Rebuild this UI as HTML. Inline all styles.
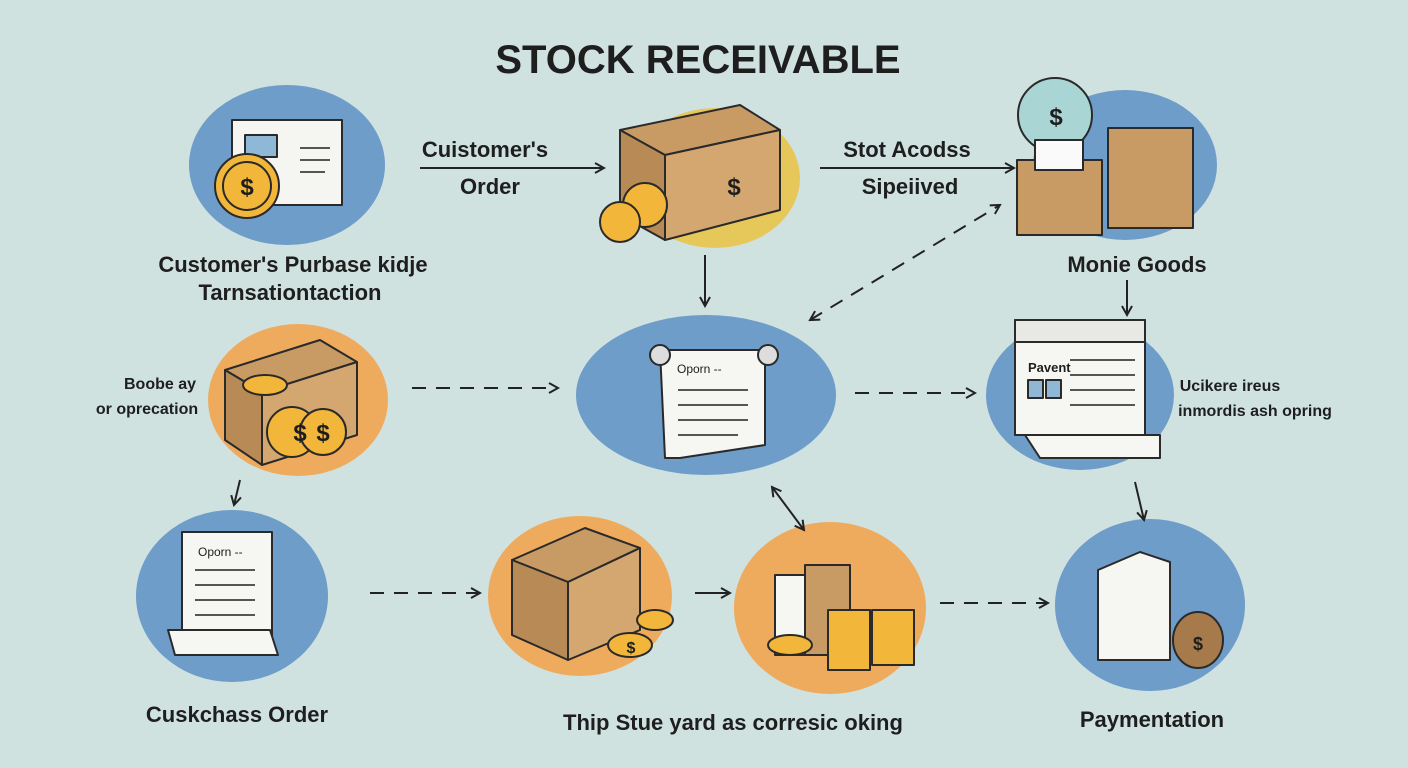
<!DOCTYPE html>
<html><head><meta charset="utf-8"><style>
html,body{margin:0;padding:0;background:#d0e2e0;}
svg{display:block}
text{font-family:"Liberation Sans",sans-serif;fill:#1e1e1e}
</style></head><body>
<svg width="1408" height="768" viewBox="0 0 1408 768" xmlns="http://www.w3.org/2000/svg">
<defs>
<marker id="ah" markerWidth="12" markerHeight="12" refX="10" refY="6" orient="auto-start-reverse" markerUnits="userSpaceOnUse">
<path d="M1,1 L10,6 L1,11" fill="none" stroke="#222" stroke-width="2"/></marker>
</defs>
<rect width="1408" height="768" fill="#d0e2e0"/>
<text x="698" y="73" text-anchor="middle" font-size="40" font-weight="bold">STOCK RECEIVABLE</text>

<!-- blobs -->
<ellipse cx="287" cy="165" rx="98" ry="80" fill="#6d9dc8"/>
<ellipse cx="715" cy="178" rx="85" ry="70" fill="#e6c85a"/>
<ellipse cx="1125" cy="165" rx="92" ry="75" fill="#6d9dc8"/>
<ellipse cx="298" cy="400" rx="90" ry="76" fill="#eeab5e"/>
<ellipse cx="706" cy="395" rx="130" ry="80" fill="#6d9dc8"/>
<ellipse cx="1080" cy="395" rx="94" ry="75" fill="#6d9dc8"/>
<ellipse cx="232" cy="596" rx="96" ry="86" fill="#6d9dc8"/>
<ellipse cx="580" cy="596" rx="92" ry="80" fill="#eeab5e"/>
<ellipse cx="830" cy="608" rx="96" ry="86" fill="#eeab5e"/>
<ellipse cx="1150" cy="605" rx="95" ry="86" fill="#6d9dc8"/>

<g stroke="#2a2a2a" stroke-width="2" stroke-linejoin="round">
<rect x="232" y="120" width="110" height="85" fill="#f5f5f2"/>
<rect x="245" y="135" width="32" height="22" fill="#8fb7d6"/>
<circle cx="247" cy="186" r="32" fill="#f2b73a"/><circle cx="247" cy="186" r="24" fill="#f2b73a"/>
<path d="M620,130 L740,105 L780,130 L665,155 Z" fill="#c99b64"/>
<path d="M620,130 L665,155 L665,240 L620,215 Z" fill="#b88a55"/>
<path d="M665,155 L780,130 L780,210 L665,240 Z" fill="#d4a771"/>
<circle cx="645" cy="205" r="22" fill="#f2b73a"/><circle cx="620" cy="222" r="20" fill="#f2b73a"/>
<circle cx="1055" cy="115" r="37" fill="#a9d6d4"/>
<rect x="1017" y="160" width="85" height="75" fill="#c99b64"/>
<rect x="1035" y="140" width="48" height="30" fill="#fafafa"/>
<rect x="1108" y="128" width="85" height="100" fill="#c99b64"/>
<path d="M225,370 L320,340 L357,362 L262,392 Z" fill="#c99b64"/>
<path d="M225,370 L262,392 L262,465 L225,440 Z" fill="#b88a55"/>
<path d="M262,392 L357,362 L357,435 L262,465 Z" fill="#d4a771"/>
<ellipse cx="265" cy="385" rx="22" ry="10" fill="#f2b73a"/>
<circle cx="292" cy="432" r="25" fill="#f2b73a"/><circle cx="323" cy="432" r="23" fill="#f2b73a"/>
<path d="M660,350 L765,350 L765,445 L680,458 L665,458 Z" fill="#f6f6f2"/>
<circle cx="660" cy="355" r="10" fill="#ddd"/><circle cx="768" cy="355" r="10" fill="#ddd"/>
<rect x="1015" y="320" width="130" height="115" fill="#f6f6f2"/>
<rect x="1015" y="320" width="130" height="22" fill="#e8e8e4"/>
<path d="M1025,435 L1160,435 L1160,458 L1040,458 Z" fill="#f6f6f2"/>
<rect x="1028" y="380" width="15" height="18" fill="#8fb7d6"/><rect x="1046" y="380" width="15" height="18" fill="#8fb7d6"/>
<path d="M182,532 L272,532 L272,645 L182,645 Z" fill="#f6f6f2"/>
<path d="M168,630 L270,630 L278,655 L175,655 Z" fill="#f6f6f2"/>
<path d="M512,560 L585,528 L640,548 L568,582 Z" fill="#c99b64"/>
<path d="M512,560 L568,582 L568,660 L512,635 Z" fill="#b88a55"/>
<path d="M568,582 L640,548 L640,630 L568,660 Z" fill="#d4a771"/>
<ellipse cx="630" cy="645" rx="22" ry="12" fill="#f2b73a"/><ellipse cx="655" cy="620" rx="18" ry="10" fill="#f2b73a"/>
<rect x="775" y="575" width="50" height="80" fill="#f6f6f2"/>
<rect x="805" y="565" width="45" height="90" fill="#c99b64"/>
<ellipse cx="790" cy="645" rx="22" ry="10" fill="#f2b73a"/>
<rect x="828" y="610" width="42" height="60" fill="#f2b73a"/>
<rect x="872" y="610" width="42" height="55" fill="#f2b73a"/>
<path d="M1098,570 L1140,552 L1170,562 L1170,660 L1098,660 Z" fill="#f6f6f2"/>
<ellipse cx="1198" cy="640" rx="25" ry="28" fill="#a67a4a"/>
</g>
<g font-size="24" font-weight="bold" text-anchor="middle" fill="#333"><text x="247" y="195">$</text><text x="734" y="195">$</text><text x="1056" y="125">$</text><text x="300" y="441">$</text><text x="323" y="441">$</text><text x="631" y="653" font-size="16">$</text><text x="1198" y="650" font-size="18">$</text></g>
<g stroke="#555" stroke-width="2"><path d="M300,148h30M300,160h30M300,172h25M678,390h70M678,405h70M678,420h70M678,435h60M1070,360h65M1070,375h65M1070,390h65M1070,405h65M195,570h60M195,585h60M195,600h60M195,615h60"/></g>
<g font-size="12"><text x="677" y="373">Oporn  --</text><text x="1028" y="372" font-size="13" font-weight="bold">Pavent</text><text x="198" y="556">Oporn --</text></g>

<g stroke="#222" stroke-width="2" fill="none" marker-end="url(#ah)">
<path d="M420,168 H604"/><path d="M820,168 H1014"/>
<path d="M705,255 V306"/><path d="M1127,280 V315"/>
<path d="M810,320 L1000,205" stroke-dasharray="14,10" marker-start="url(#ah)"/>
<path d="M412,388 H558" stroke-dasharray="14,10"/>
<path d="M855,393 H975" stroke-dasharray="14,10"/>
<path d="M240,480 L234,505"/>
<path d="M772,487 L804,530" marker-start="url(#ah)"/>
<path d="M1135,482 L1144,520"/>
<path d="M370,593 H480" stroke-dasharray="14,10"/>
<path d="M695,593 H730"/>
<path d="M940,603 H1048" stroke-dasharray="14,10"/>
</g>

<g font-size="22" text-anchor="middle" font-weight="bold" fill="#222">
<text x="485" y="157">Cuistomer's</text><text x="490" y="194">Order</text>
<text x="907" y="157">Stot Acodss</text><text x="910" y="194">Sipeiived</text>
<text x="293" y="272">Customer's Purbase kidje</text><text x="290" y="300">Tarnsationtaction</text>
<text x="1137" y="272">Monie Goods</text>
<text x="237" y="722">Cuskchass Order</text>
<text x="733" y="730">Thip Stue yard as corresic oking</text>
<text x="1152" y="727">Paymentation</text>
</g>
<g font-size="16" text-anchor="middle" font-weight="bold">
<text x="160" y="389">Boobe ay</text><text x="147" y="414">or oprecation</text>
<text x="1230" y="391">Ucikere ireus</text><text x="1255" y="416">inmordis ash opring</text>
</g>
</svg>
</body></html>
